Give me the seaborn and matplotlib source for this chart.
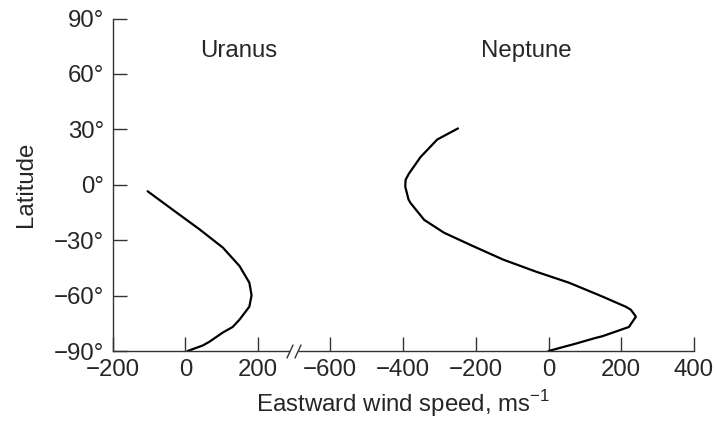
import matplotlib
matplotlib.use('Agg')
import matplotlib.pyplot as plt
from matplotlib.lines import Line2D
import seaborn as sns

# values
uranus_lat = [-3.5, -13.5, -24, -34, -44, -53, -58.5, -60, -66, -73, -77,
              -80, -85, -87, -90]
uranus_u = [-104, -35, 38, 103, 149, 176, 181, 182, 176, 149, 130,
            103, 66, 48, 6]

neptune_lat = [30.5, 24.5, 15, 6, 2.7, -1, -8, -10, -19, -26, -33,
               -40.5, -47, -53, -60.5, -63, -66, -67.6, -71, -71.5,
               -77, -82, -83, -86, -90]
neptune_u = [-249, -306, -352, -384, -393, -394, -385, -379, -342,
             -287, -210, -125, -35, 56, 148, 177, 212, 226, 239, 240,
             221, 148, 128, 75, 0]

lat_ticks = [-90, -60, -30, 0, 30, 60, 90]
lat_labels = ['\u221290°', '\u221260°', '\u221230°', '0°', '30°', '60°', '90°']
uranus_ticks = [-200, 0, 200]
neptune_ticks = [-600, -400, -200, 0, 200, 400]

sns.set_style('ticks')
plt.rcParams['font.family'] = ['Liberation Sans', 'DejaVu Sans']
plt.rcParams['mathtext.fontset'] = 'custom'
plt.rcParams['mathtext.rm'] = 'Liberation Sans'
plt.rcParams['axes.unicode_minus'] = True

fs = 17.3
spine_col = '#333333'

fig = plt.figure(figsize=(7.17, 4.23), dpi=100)
ax1 = fig.add_axes([0.1572, 0.1702, 0.2534, 0.786])
ax2 = fig.add_axes([0.4100, 0.1702, 0.5579, 0.786])

sns.lineplot(x=uranus_u, y=uranus_lat, sort=False, estimator=None, ax=ax1,
             color='black', linewidth=1.6, solid_joinstyle='round')
sns.lineplot(x=neptune_u, y=neptune_lat, sort=False, estimator=None, ax=ax2,
             color='black', linewidth=1.6, solid_joinstyle='round')

ax1.set_xlim(-200, 300)
ax2.set_xlim(-700, 400)
for ax in (ax1, ax2):
    ax.set_ylim(-90, 90)
    ax.set_facecolor('white')
    ax.spines['top'].set_visible(False)
    ax.spines['right'].set_visible(False)
    for s in ax.spines.values():
        s.set_color(spine_col)
        s.set_linewidth(1.0)
    ax.tick_params(direction='in', length=10, width=1.0, color=spine_col,
                   labelsize=fs, pad=6)

ax1.set_yticks(lat_ticks)
ax1.set_yticklabels(lat_labels)
ax1.set_xticks(uranus_ticks)
ax1.spines['bottom'].set_bounds(-200, 285)

ax2.spines['left'].set_visible(False)
ax2.set_yticks([])
ax2.set_xticks(neptune_ticks)
ax2.spines['bottom'].set_bounds(-686, 400)

ax1.set_ylabel('Latitude', fontsize=fs, labelpad=12)
ax1.set_xlabel('')
ax2.set_xlabel('')

ax1.text(146, 72.6, 'Uranus', fontsize=fs, ha='center', va='center')
ax2.text(-62, 72.6, 'Neptune', fontsize=fs, ha='center', va='center')

fig.text(403 / 717, (423 - 404) / 423, 'Eastward wind speed, ms$^{\\mathrm{-1}}$',
         fontsize=fs, ha='center', va='center')

# axis break marks
W, H = 717, 423
for cx in (290, 298):
    fig.add_artist(Line2D([(cx - 3) / W, (cx + 3) / W],
                          [(H - 358) / H, (H - 345) / H],
                          transform=fig.transFigure, color=spine_col, linewidth=1.0))

fig.savefig('out.png', dpi=100, facecolor='white')
